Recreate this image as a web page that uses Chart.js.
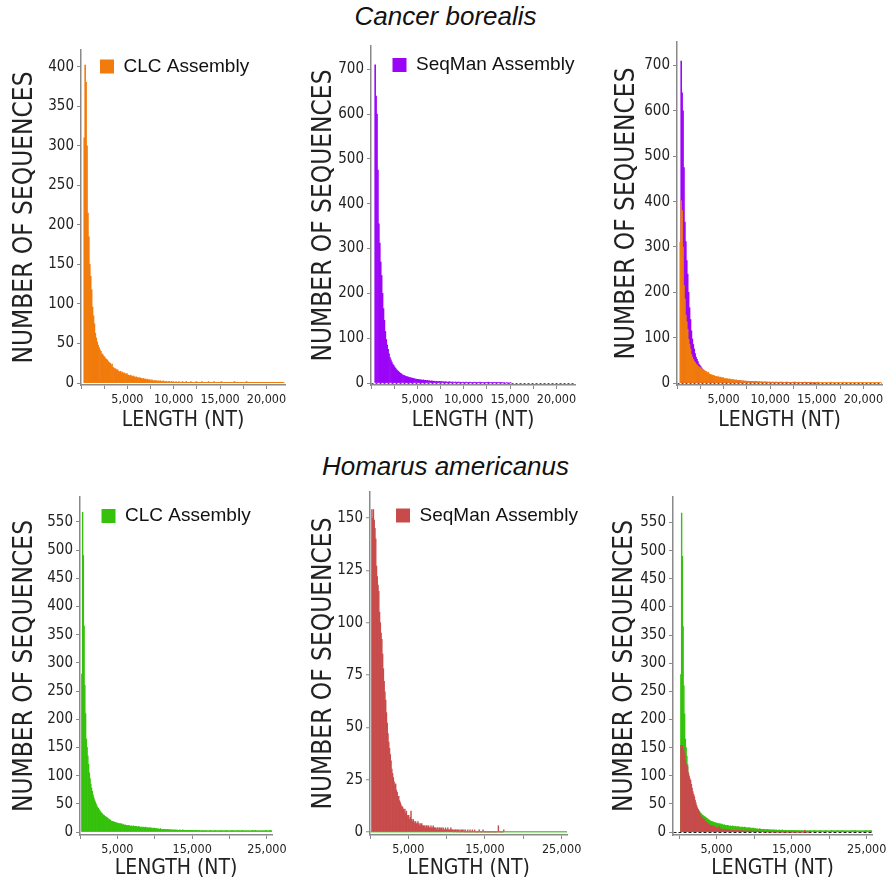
<!DOCTYPE html>
<html><head><meta charset="utf-8">
<script src="https://cdn.jsdelivr.net/npm/chart.js@4.4.1/dist/chart.umd.min.js"></script>
<style>
html,body{margin:0;padding:0;background:#fff;}
body{width:891px;height:886px;position:relative;overflow:hidden;}
canvas.panel{position:absolute;}
.species{position:absolute;left:0;width:891px;text-align:center;font:italic 26px 'Liberation Sans',Arial,sans-serif;line-height:30px;color:#111;}
</style></head><body>
<div class="species" style="top:1px">Cancer borealis</div>
<div class="species" style="top:451px">Homarus americanus</div>
<canvas id="p1" class="panel"></canvas>
<canvas id="p2" class="panel"></canvas>
<canvas id="p3" class="panel"></canvas>
<canvas id="p4" class="panel"></canvas>
<canvas id="p5" class="panel"></canvas>
<canvas id="p6" class="panel"></canvas>
<script>
// ---------------- data ----------------
const binWidth = 100; // nt per histogram bin

const clcBorealisFirstBin = 300;
const clcBorealisCounts = [
  310, 402, 380, 300, 215, 185, 150, 135, 118, 96,
  85, 75, 63, 57, 52, 48, 45, 42, 40, 37,
  36, 34, 33, 31, 30, 29, 27, 26, 25, 22,
  24, 20, 19, 18, 18, 16, 17, 15, 14, 15,
  13, 14, 12, 13, 12, 11, 12, 10, 10, 9,
  10, 9, 8, 9, 8, 7, 8, 7, 7, 6,
  7, 6, 6, 5, 6, 5, 5, 4, 5, 4,
  4, 4, 3, 4, 3, 3, 3, 3, 3, 2,
  3, 2, 3, 2, 2, 3, 2, 2, 2, 2,
  1, 2, 2, 1, 2, 1, 2, 1, 1, 2,
  1, 1, 2, 1, 1, 1, 2, 1, 1, 1,
  2, 1, 1, 1, 1, 2, 1, 1, 1, 1,
  1, 2, 1, 1, 1, 1, 1, 2, 1, 1,
  1, 1, 1, 1, 2, 1, 1, 1, 1, 1,
  2, 1, 1, 1, 1, 1, 1, 1, 2, 1,
  1, 1, 1, 1, 1, 1, 1, 1, 1, 1,
  1, 1, 2, 1, 1, 1, 1, 1, 1, 1,
  1, 1, 1, 1, 1, 2, 1, 1, 1, 1,
  1, 1, 1, 1, 1, 1, 1, 1, 1, 1,
  1, 1, 1, 1, 1, 1, 1, 1, 1, 1,
  1, 1, 1, 1, 1, 1, 1, 1, 1, 1,
  1, 1, 1, 1, 1, 1
];

const seqmanBorealisFirstBin = 400;
const seqmanBorealisCounts = [
  710, 640, 600, 475, 355, 312, 270, 240, 200, 166,
  140, 115, 97, 85, 75, 65, 57, 52, 47, 42,
  39, 36, 33, 30, 28, 26, 24, 22, 21, 19,
  18, 17, 16, 15, 14, 14, 13, 12, 12, 11,
  11, 10, 10, 9, 9, 8, 8, 8, 7, 7,
  7, 6, 7, 6, 6, 5, 6, 5, 5, 5,
  4, 5, 4, 4, 4, 3, 4, 3, 3, 4,
  3, 3, 3, 2, 3, 2, 3, 2, 2, 2,
  3, 2, 2, 2, 2, 1, 2, 2, 1, 2,
  2, 1, 2, 1, 1, 2, 1, 1, 2, 1,
  1, 1, 2, 1, 1, 1, 1, 2, 1, 1,
  1, 1, 1, 2, 1, 1, 1, 1, 1, 1,
  1, 1, 2, 1, 1, 1, 1, 1, 1, 1,
  1, 1, 1, 1, 1, 1, 1, 1, 0, 1,
  0, 0, 1, 0, 0, 0, 1
];

const clcHomarusFirstBin = 200;
const clcHomarusCounts = [
  280, 567, 490, 365, 260, 210, 165, 150, 135, 120,
  105, 95, 85, 78, 72, 66, 61, 57, 53, 50,
  47, 44, 42, 40, 38, 36, 34, 33, 31, 30,
  29, 28, 27, 26, 25, 24, 23, 22, 21, 20,
  19, 19, 18, 18, 17, 17, 16, 16, 16, 15,
  15, 14, 15, 14, 13, 14, 13, 12, 13, 12,
  12, 11, 12, 11, 11, 10, 11, 10, 10, 11,
  10, 9, 10, 10, 9, 9, 10, 9, 9, 8,
  9, 8, 9, 8, 8, 9, 8, 7, 8, 7,
  7, 8, 7, 7, 6, 7, 6, 7, 6, 6,
  6, 5, 6, 5, 5, 6, 5, 5, 4, 5,
  5, 4, 5, 4, 4, 5, 4, 4, 4, 4,
  4, 3, 4, 4, 3, 4, 3, 4, 3, 3,
  3, 4, 3, 3, 3, 4, 3, 3, 3, 3,
  3, 3, 2, 3, 3, 3, 2, 3, 3, 2,
  3, 2, 3, 2, 3, 2, 2, 3, 2, 2,
  2, 3, 2, 2, 2, 3, 2, 2, 2, 2,
  2, 2, 3, 2, 2, 2, 2, 2, 3, 2,
  2, 2, 2, 2, 2, 2, 3, 2, 2, 2,
  2, 2, 2, 3, 2, 2, 2, 2, 2, 2,
  2, 3, 2, 2, 2, 2, 2, 2, 2, 3,
  2, 2, 2, 2, 2, 3, 2, 2, 2, 2,
  2, 2, 2, 2, 2, 2, 2, 2, 3, 2,
  2, 2, 3, 2, 2, 2, 2, 2, 2, 2,
  2, 2, 2, 2, 2, 2, 3, 2, 2, 2,
  2, 2, 3, 2, 2
];

const seqmanHomarusFirstBin = 200;
const seqmanHomarusCounts = [
  154, 150, 154, 149, 145, 140, 127, 122, 118, 115,
  105, 100, 95, 92, 85, 78, 72, 67, 63, 57,
  52, 47, 43, 40, 37, 34, 30, 28, 26, 24,
  22, 23, 20, 19, 17, 17, 15, 14, 13, 12,
  12, 11, 10, 11, 9, 10, 8, 7, 8, 6,
  7, 10, 6, 5, 6, 5, 4, 5, 4, 4,
  5, 4, 3, 4, 3, 4, 3, 3, 3, 3,
  2, 3, 3, 2, 3, 2, 2, 3, 2, 2,
  3, 2, 2, 2, 1, 2, 2, 1, 2, 2,
  1, 2, 1, 2, 1, 1, 2, 1, 1, 2,
  1, 1, 1, 2, 1, 1, 1, 0, 1, 1,
  1, 0, 1, 1, 0, 1, 0, 1, 1, 0,
  1, 0, 1, 0, 0, 1, 0, 0, 1, 0,
  0, 1, 0, 0, 1, 0, 0, 0, 0, 0,
  1, 0, 0, 0, 0, 1, 0, 0, 0, 0,
  0, 0, 0, 0, 0, 0, 0, 0, 0, 0,
  0, 0, 0, 0, 0, 3, 0, 0, 0, 0,
  0, 0, 1
];

const clcLabel = 'CLC Assembly';
const seqmanLabel = 'SeqMan Assembly';

const borealisLengthTicks = [0, 2500, 5000, 7500, 10000, 12500, 15000, 17500, 20000];
const borealisLengthLabels = [5000, 10000, 15000, 20000];
const homarusLengthTicks = [0, 5000, 10000, 15000, 20000, 25000];
const homarusLengthLabels = [5000, 15000, 25000];
const clcBorealisCountTicks = [0, 50, 100, 150, 200, 250, 300, 350, 400];
const seqmanBorealisCountTicks = [0, 100, 200, 300, 400, 500, 600, 700];
const homarusCountTicks = [0, 50, 100, 150, 200, 250, 300, 350, 400, 450, 500, 550];
const seqmanHomarusCountTicks = [0, 25, 50, 75, 100, 125, 150];

// ---------------- styling ----------------
const ORANGE = '#f17b0c';
const PURPLE = '#9b05f7';
const GREEN = '#35c10c';
const RED = '#c84b4b';
const AXIS = '#8a8a8a';
const TEXT = '#222222';
const NARROW = "'Liberation Sans Narrow','Arial Narrow','DejaVu Sans Condensed','Liberation Sans',sans-serif";
const SANS = "'Liberation Sans',Arial,sans-serif";

function toBins(first, counts) {
  return counts.map((c, i) => ({ x: first + i * binWidth + binWidth / 2, y: c }));
}
function ds(label, first, counts, color) {
  return {
    label, data: toBins(first, counts), backgroundColor: color, borderWidth: 0,
    barPercentage: 1, categoryPercentage: 1, grouped: false
  };
}

// let the in-plot legend text run past the plot's right edge (as in the original)
const legendRoom = {
  id: 'legendRoom',
  afterLayout(chart) {
    const lg = chart.legend;
    if (lg) { lg.right = chart.width; lg.bottom = chart.height; }
  }
};

function makePanel(id, g, datasets, showLegend, xTicks, xLabels, yTicks, zeroLine) {
  const cv = document.getElementById(id);
  cv.width = g.w; cv.height = g.h;
  cv.style.left = g.left + 'px'; cv.style.top = g.top + 'px';
  return new Chart(cv, {
    type: 'bar',
    data: { datasets },
    plugins: [legendRoom],
    options: {
      responsive: false, animation: false, devicePixelRatio: 1, locale: 'en-US',
      events: [],
      layout: { padding: { top: g.padTop, right: g.padRight, left: 0, bottom: 0 } },
      plugins: {
        tooltip: { enabled: false },
        legend: showLegend ? {
          display: true, position: 'chartArea', align: 'start',
          labels: { boxWidth: 14, boxHeight: 14, padding: g.legendPad, color: '#111', font: { family: SANS, size: 19 } }
        } : { display: false }
      },
      scales: {
        x: {
          type: 'linear', min: g.xMin, max: g.xMax, offset: false,
          afterBuildTicks: s => { s.ticks = xTicks.map(v => ({ value: v })); },
          afterFit: s => { s.height = g.xH; },
          grid: { display: true, offset: false, drawOnChartArea: false, drawTicks: true, tickLength: 4, color: AXIS, tickColor: AXIS, tickWidth: 1 },
          border: { display: true, color: AXIS, width: 1.5 },
          ticks: {
            autoSkip: false, maxRotation: 0, minRotation: 0, padding: 3, color: TEXT,
            font: { family: NARROW, size: 12.5 },
            callback: v => xLabels.includes(v) ? v.toLocaleString('en-US') : ''
          },
          title: { display: true, text: 'LENGTH (NT)', color: TEXT, font: { family: NARROW, size: 21 }, padding: { top: 0, bottom: g.xTitlePad } }
        },
        y: {
          type: 'linear', min: g.yMin, max: g.yMax, z: zeroLine && zeroLine.onTop ? 1 : 0,
          afterBuildTicks: s => { s.ticks = yTicks.map(v => ({ value: v })); },
          afterFit: s => { s.width = g.yW; },
          grid: {
            display: true, drawOnChartArea: !!zeroLine, drawTicks: true, tickLength: 4,
            color: c => (zeroLine && c.tick && c.tick.value === 0) ? zeroLine.color : 'rgba(0,0,0,0)',
            lineWidth: zeroLine ? zeroLine.width : 1,
            tickColor: AXIS, tickWidth: 1
          },
          border: { display: true, color: AXIS, width: 1.5, dash: zeroLine ? zeroLine.dash : [] },
          ticks: { padding: 3, color: TEXT, font: { family: NARROW, size: 15 } },
          title: { display: true, text: 'NUMBER OF SEQUENCES', color: TEXT, font: { family: NARROW, size: 26 }, padding: { top: g.yTitlePad, bottom: 0 } }
        }
      }
    }
  });
}

const dottedZero = { color: '#555555', dash: [2, 2], width: 1 };

makePanel('p1', { left: 0, top: 38, w: 292, h: 400, padTop: 0, padRight: 7, yW: 81, xH: 53, xTitlePad: 5, yTitlePad: 9.5,
  xMin: 0, xMax: 22000, yMin: -2.4, yMax: 421, legendPad: 19 },
  [ds(clcLabel, clcBorealisFirstBin, clcBorealisCounts, ORANGE)], true,
  borealisLengthTicks, borealisLengthLabels, clcBorealisCountTicks, null);

makePanel('p2', { left: 295, top: 34, w: 287, h: 404, padTop: 4, padRight: 7, yW: 76, xH: 53, xTitlePad: 5, yTitlePad: 14,
  xMin: 0, xMax: 22000, yMin: -4.4, yMax: 752, legendPad: 21.5 },
  [ds(seqmanLabel, seqmanBorealisFirstBin, seqmanBorealisCounts, PURPLE)], true,
  borealisLengthTicks, borealisLengthLabels, seqmanBorealisCountTicks, dottedZero);

makePanel('p3', { left: 590, top: 30, w: 300, h: 408, padTop: 8, padRight: 8, yW: 87, xH: 53, xTitlePad: 5, yTitlePad: 22,
  xMin: 0, xMax: 22000, yMin: -4.4, yMax: 752, legendPad: 20 },
  [ds(clcLabel, clcBorealisFirstBin, clcBorealisCounts, ORANGE),
   ds(seqmanLabel, seqmanBorealisFirstBin, seqmanBorealisCounts, PURPLE)], false,
  borealisLengthTicks, borealisLengthLabels, seqmanBorealisCountTicks, dottedZero);

makePanel('p4', { left: 0, top: 485, w: 290, h: 400, padTop: 8, padRight: 15, yW: 80, xH: 50, xTitlePad: 4, yTitlePad: 9.5,
  xMin: 0, xMax: 25700, yMin: -5.25, yMax: 594, legendPad: 21.5 },
  [ds(clcLabel, clcHomarusFirstBin, clcHomarusCounts, GREEN)], true,
  homarusLengthTicks, homarusLengthLabels, homarusCountTicks, null);

makePanel('p5', { left: 295, top: 480, w: 293, h: 405, padTop: 12, padRight: 21, yW: 75, xH: 50, xTitlePad: 4, yTitlePad: 14,
  xMin: 0, xMax: 25700, yMin: -1.43, yMax: 162.4, legendPad: 26 },
  [ds(seqmanLabel, seqmanHomarusFirstBin, seqmanHomarusCounts, RED)], true,
  homarusLengthTicks, homarusLengthLabels, seqmanHomarusCountTicks, { color: '#5fd43c', dash: [], width: 1.5, onTop: true });

makePanel('p6', { left: 590, top: 485, w: 300, h: 400, padTop: 7, padRight: 18, yW: 83, xH: 50, xTitlePad: 4, yTitlePad: 20,
  xMin: -800, xMax: 25700, yMin: -5.25, yMax: 595.5, legendPad: 20 },
  [ds(seqmanLabel, seqmanHomarusFirstBin, seqmanHomarusCounts, RED),
   ds(clcLabel, clcHomarusFirstBin, clcHomarusCounts, GREEN)], false,
  homarusLengthTicks, homarusLengthLabels, homarusCountTicks, { color: '#222222', dash: [3, 2], width: 1 });
</script>
</body></html>
